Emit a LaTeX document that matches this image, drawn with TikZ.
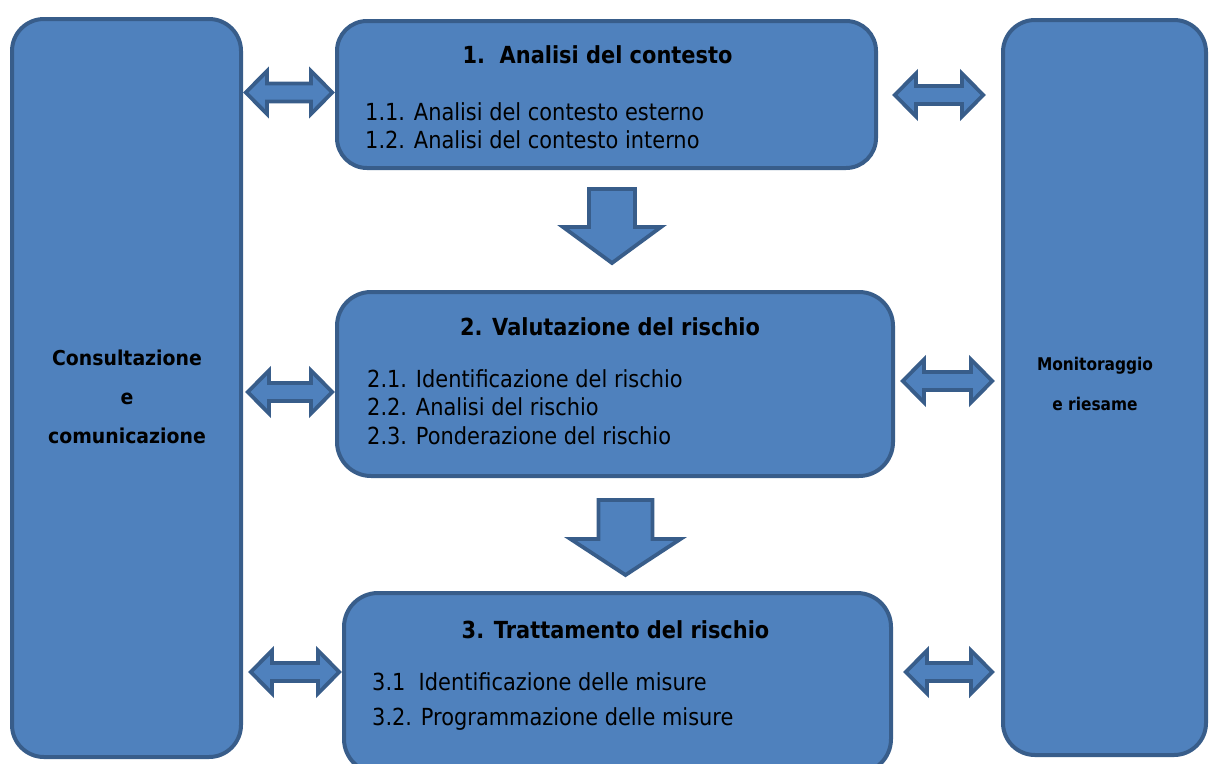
\documentclass[tikz,border=0pt]{standalone}
\usepackage{fontspec}
\setmainfont{DejaVu Sans}[FakeStretch=0.89]
\newfontfamily\leftfont{DejaVu Sans}[FakeStretch=0.92]
\newfontfamily\rightfont{DejaVu Sans}[FakeStretch=0.88]
\definecolor{boxfill}{HTML}{4F81BD}
\definecolor{boxline}{HTML}{385D8A}
\newcommand\dblarrowshape[3]{% #1 left tip x, #2 right tip x, #3 centre y
  \draw[blockarrow] ({#1+2.8},#3) -- ({#1+24},{#3-21.5}) -- ({#1+24},{#3-9})
    -- ({#2-24},{#3-9}) -- ({#2-24},{#3-21.5}) -- ({#2-2.8},#3)
    -- ({#2-24},{#3+21.5}) -- ({#2-24},{#3+9}) -- ({#1+24},{#3+9})
    -- ({#1+24},{#3+21.5}) -- cycle;}
\newcommand\downarrowshape[6]{% #1 xc, #2 top, #3 head base, #4 tip, #5 shaft half, #6 head half
  \draw[blockarrow] ({#1-#5},#2) -- ({#1+#5},#2) -- ({#1+#5},#3) -- ({#1+#6},#3)
    -- (#1,#4) -- ({#1-#6},#3) -- ({#1-#5},#3) -- cycle;}
\begin{document}
\begin{tikzpicture}[x=1pt,y=-1pt,
  box/.style={draw=boxline, fill=boxfill, line width=4pt, rounded corners=32pt,
    rectangle, inner sep=0pt},
  blockarrow/.style={draw=boxline, fill=boxfill, line width=3.8pt, line join=miter},
  titletext/.style={font=\bfseries\fontsize{23.5}{28}\selectfont, anchor=base, inner sep=0pt},
  itemtext/.style={font=\fontsize{23.5}{28}\selectfont, anchor=base west, inner sep=0pt},
  sidetext/.style={font=\leftfont\bfseries\fontsize{20.5}{24}\selectfont, anchor=base, inner sep=0pt},
  sidetextr/.style={font=\rightfont\bfseries\fontsize{17.5}{21}\selectfont, anchor=base, inner sep=0pt}]
\useasboundingbox (0,0) rectangle (1209,763);
% side boxes
\node[box, minimum width=229pt, minimum height=738pt] (left) at (126.5,388) {};
\node[box, minimum width=203pt, minimum height=735pt] (right) at (1104.5,387.5) {};
% main boxes
\node[box, rounded corners=30pt, minimum width=539pt, minimum height=147pt] (b1) at (606.5,94.5) {};
\node[box, rounded corners=34pt, minimum width=556pt, minimum height=184pt] (b2) at (615,384) {};
\node[box, rounded corners=34pt, minimum width=547pt, minimum height=180pt] (b3) at (617.5,683) {};
% texts
\node[titletext] (t1) at (597.5,63) {1.\ \ Analisi del contesto};
\node[itemtext] (i11) at (365,120) {1.1. Analisi del contesto esterno};
\node[itemtext] (i12) at (365,148) {1.2. Analisi del contesto interno};
\node[titletext] (t2) at (610,335) {2. Valutazione del rischio};
\node[itemtext] (i21) at (367,387) {2.1. Identificazione del rischio};
\node[itemtext] (i22) at (367,415) {2.2. Analisi del rischio};
\node[itemtext] (i23) at (367,444) {2.3. Ponderazione del rischio};
\node[titletext] (t3) at (615.5,638) {3. Trattamento del rischio};
\node[itemtext] (i31) at (372,690) {3.1\ \ Identificazione delle misure};
\node[itemtext] (i32) at (372,725) {3.2. Programmazione delle misure};
\node[sidetext] (l1) at (127,365) {Consultazione};
\node[sidetext] (l2) at (127,404) {e};
\node[sidetext] (l3) at (127,443) {comunicazione};
\node[sidetextr] (r1) at (1095,370) {Monitoraggio};
\node[sidetextr] (r2) at (1095,410) {e riesame};
% double arrows
\dblarrowshape{243}{335}{92.5}
\dblarrowshape{892}{986}{95}
\dblarrowshape{245}{335}{392}
\dblarrowshape{900}{995}{381}
\dblarrowshape{248}{342}{672}
\dblarrowshape{903}{995}{672}
% down arrows
\downarrowshape{612}{189}{227}{263}{23}{49}
\downarrowshape{625.5}{500}{539}{575}{27}{55}
\end{tikzpicture}
\end{document}
